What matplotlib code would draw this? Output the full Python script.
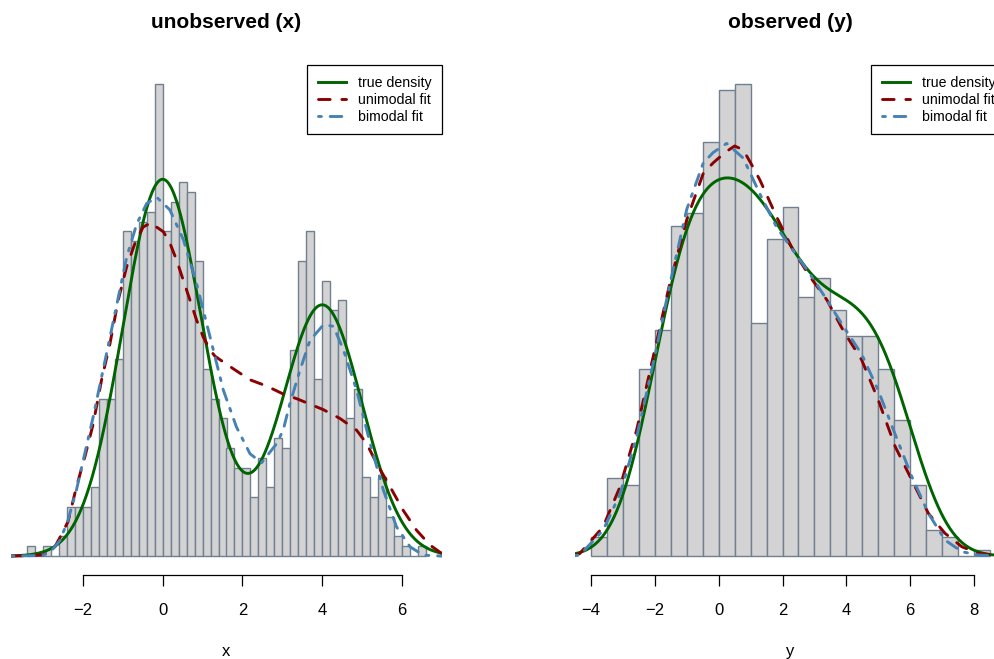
import math

import matplotlib
matplotlib.use("Agg")
import matplotlib.pyplot as plt
import numpy as np

plt.rcParams["font.family"] = ["Liberation Sans", "DejaVu Sans"]

W_PX, H_PX, DPI = 995, 659, 100

# histogram counts (n = 800), bins start at the first break
X_BREAK0, X_BINW = -3.4, 0.2
x_counts = [1, 0, 1, 0, 2, 5, 5, 5, 7, 16,
            16, 20, 33, 32, 34, 35, 48, 33, 36, 38,
            37, 30, 19, 16, 14, 11, 9, 9, 6, 10,
            7, 12, 11, 21, 30, 33, 18, 28, 25, 26,
            14, 17, 8, 6, 8, 4, 2, 1, 0, 1]

Y_BREAK0, Y_BINW = -4.0, 0.5
y_counts = [3, 12, 11, 29, 35, 51, 53, 64, 72, 73,
            36, 49, 54, 40, 43, 38, 34, 34, 29, 21,
            11, 4, 3, 0, 1]

# true two-component normal mixture for x; y = x + uniform(-a, a) noise
mix_weights = [0.6, 0.4]
mix_means = [0.0, 4.0]
mix_sds = [1.0, 1.0]
noise_halfwidth = 2.0

# fitted densities on the x scale
uni_x_grid = [-3.8, -3.4, -3.0, -2.74, -2.57, -2.37, -2.16, -1.95, -1.74, -1.53,
              -1.32, -1.11, -0.90, -0.69, -0.49, -0.28, -0.15, 0.02, 0.18, 0.35,
              0.52, 0.68, 0.85, 1.02, 1.19, 1.31, 1.77, 2.19, 2.61, 3.02,
              3.36, 4.03, 4.44, 4.86, 5.11, 5.36, 5.70, 6.03, 6.36, 6.70,
              6.99, 7.0]
uni_x_dens = [0.0, 0.0002, 0.0008, 0.004, 0.012, 0.022, 0.044, 0.063, 0.084, 0.112,
              0.135, 0.163, 0.184, 0.199, 0.209, 0.212, 0.209, 0.206, 0.199, 0.188,
              0.175, 0.163, 0.150, 0.139, 0.131, 0.127, 0.119, 0.112, 0.108, 0.103,
              0.100, 0.093, 0.0875, 0.080, 0.0716, 0.059, 0.044, 0.029, 0.0165, 0.007,
              0.0017, 0.0015]

bi_x_grid = [-3.8, -3.0, -2.8, -2.57, -2.37, -2.16, -1.74, -1.32, -0.90, -0.65,
             -0.40, -0.15, 0.18, 0.52, 0.85, 1.19, 1.52, 1.85, 2.19, 2.48,
             2.86, 3.02, 3.19, 3.44, 3.69, 4.03, 4.28, 4.53, 4.86, 5.20,
             5.53, 5.86, 6.20, 6.53, 7.0]
bi_x_dens = [0.0, 0.0005, 0.003, 0.010, 0.023, 0.042, 0.0886, 0.139, 0.190, 0.211,
             0.224, 0.228, 0.220, 0.201, 0.173, 0.139, 0.1055, 0.082, 0.065, 0.0593,
             0.0716, 0.080, 0.097, 0.118, 0.137, 0.147, 0.146, 0.131, 0.1055, 0.0716,
             0.042, 0.0186, 0.0059, 0.0006, 0.0]

# fitted densities on the y scale
uni_y_grid = [-4.5, -4.35, -3.62, -3.09, -2.57, -2.05, -1.53, -1.00, -0.48, -0.17,
              0.20, 0.50, 0.77, 1.00, 1.29, 1.82, 2.34, 2.86, 3.39, 3.91,
              4.48, 5.00, 5.53, 6.05, 6.57, 7.09, 7.62, 8.14, 9.0]
uni_y_dens = [0.0003, 0.001, 0.0113, 0.0268, 0.0487, 0.0771, 0.1054, 0.130, 0.148, 0.152,
              0.156, 0.1585, 0.157, 0.152, 0.1454, 0.131, 0.118, 0.108, 0.099, 0.087,
              0.0758, 0.0603, 0.0423, 0.0294, 0.0165, 0.0088, 0.0036, 0.001, 0.0]

bi_y_grid = [-4.5, -4.35, -3.62, -3.09, -2.57, -2.05, -1.53, -1.00, -0.48, -0.17,
             0.25, 0.77, 1.29, 1.82, 2.34, 2.86, 3.39, 3.91, 4.48, 5.00,
             5.53, 6.05, 6.57, 7.09, 7.62, 8.14, 9.0]
bi_y_dens = [0.0002, 0.0004, 0.010, 0.024, 0.046, 0.0745, 0.105, 0.134, 0.152, 0.156,
             0.1595, 0.1538, 0.140, 0.127, 0.118, 0.109, 0.099, 0.0887, 0.078, 0.064,
             0.047, 0.0307, 0.0165, 0.0062, 0.0017, 0.0004, 0.0]

C_TRUE = "#006400"
C_UNI = "#8B0000"
C_BI = "#4682B4"
C_FILL = "#D3D3D3"
C_EDGE = "#708090"
LW = 2.1

_erf = np.vectorize(math.erf)


def norm_cdf(z):
    return 0.5 * (1.0 + _erf(z / math.sqrt(2.0)))


def mixture_pdf(grid, halfwidth=0.0):
    """Mixture density, optionally convolved with uniform(-halfwidth, halfwidth)."""
    out = np.zeros_like(grid)
    for w, m, s in zip(mix_weights, mix_means, mix_sds):
        if halfwidth > 0:
            comp = (norm_cdf((grid - m + halfwidth) / s)
                    - norm_cdf((grid - m - halfwidth) / s)) / (2 * halfwidth)
        else:
            comp = np.exp(-0.5 * ((grid - m) / s) ** 2) / (s * np.sqrt(2 * np.pi))
        out += w * comp
    return out


def draw_panel(ax, break0, binw, counts, halfwidth, uni, bi, ticks, xlabel):
    counts = np.asarray(counts, dtype=float)
    n = counts.sum()
    lefts = break0 + binw * np.arange(len(counts))
    dens = counts / (n * binw)

    # R-style axis ranges: 4% padding around breaks and [0, max density]
    lo, hi = lefts[0], lefts[-1] + binw
    pad = 0.04 * (hi - lo)
    ax.set_xlim(lo - pad, hi + pad)
    ymax = dens.max()
    ax.set_ylim(-0.04 * ymax, 1.04 * ymax)

    ax.bar(lefts, dens, width=binw, align="edge", color=C_FILL,
           edgecolor=C_EDGE, linewidth=1.0, zorder=1)

    grid = np.linspace(lo - pad, hi + pad, 600)
    ax.plot(grid, mixture_pdf(grid, halfwidth), color=C_TRUE, lw=LW,
            label="true density", zorder=3)
    ax.plot(uni[0], uni[1], color=C_UNI, lw=LW, linestyle=(0, (4, 4)),
            dash_capstyle="round", label="unimodal fit", zorder=4)
    ax.plot(bi[0], bi[1], color=C_BI, lw=LW, linestyle=(0, (1, 3, 4, 3)),
            dash_capstyle="round", label="bimodal fit", zorder=5)

    for side in ("left", "right", "top"):
        ax.spines[side].set_visible(False)
    ax.spines["bottom"].set_bounds(ticks[0], ticks[-1])
    ax.spines["bottom"].set_linewidth(0.9)
    ax.set_yticks([])
    ax.set_xticks(ticks)
    ax.tick_params(axis="x", length=7.9, width=0.9, pad=12, labelsize=12)
    ax.set_xlabel(xlabel, fontsize=12)
    ax.xaxis.set_label_coords(0.5, -0.135)

    leg = ax.legend(loc="upper right", borderaxespad=0, fancybox=False,
                    edgecolor="black", framealpha=1, fontsize=10.2,
                    handlelength=2.0, handletextpad=0.8, borderpad=0.75,
                    labelspacing=0.22)
    leg.get_frame().set_linewidth(0.9)


fig = plt.figure(figsize=(W_PX / DPI, H_PX / DPI), dpi=DPI)

ax_bottom = (H_PX - 575) / H_PX
ax_height = 510 / H_PX
ax_width = 431 / W_PX

ax_x = fig.add_axes([11 / W_PX, ax_bottom, ax_width, ax_height])
ax_y = fig.add_axes([575 / W_PX, ax_bottom, ax_width, ax_height])

draw_panel(ax_x, X_BREAK0, X_BINW, x_counts, 0.0,
           (uni_x_grid, uni_x_dens), (bi_x_grid, bi_x_dens),
           [-2, 0, 2, 4, 6], "x")
draw_panel(ax_y, Y_BREAK0, Y_BINW, y_counts, noise_halfwidth,
           (uni_y_grid, uni_y_dens), (bi_y_grid, bi_y_dens),
           [-4, -2, 0, 2, 4, 6, 8], "y")

for ax, title in ((ax_x, "unobserved (x)"), (ax_y, "observed (y)")):
    pos = ax.get_position()
    fig.text(pos.x0 + pos.width / 2, 1 - 28 / H_PX, title, ha="center",
             va="baseline", fontsize=15, fontweight="bold")

fig.savefig("out.png", dpi=DPI)
